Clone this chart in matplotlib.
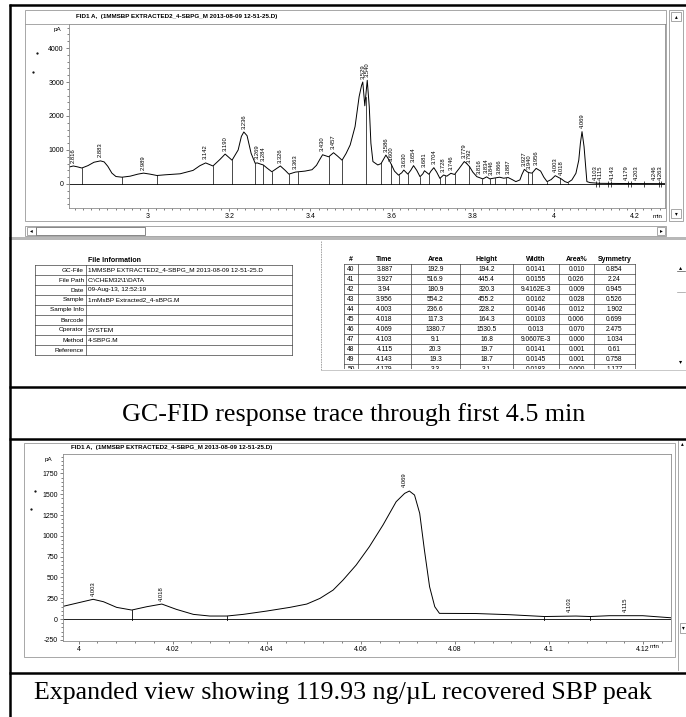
import numpy as np
import matplotlib.pyplot as plt
from matplotlib.patches import Rectangle
from matplotlib.ticker import MultipleLocator, FuncFormatter

plt.rcParams['font.family'] = ['Liberation Sans', 'DejaVu Sans']

W, H = 686, 717

run_title = 'FID1 A,  (1MMSBP EXTRACTED2_4-SBPG_M 2013-08-09 12-51-25.D)'

# full trace (min, pA)
trace_t = [2.806, 2.816, 2.826, 2.837, 2.852, 2.867, 2.883, 2.892, 2.901, 2.911,
           2.921, 2.936, 2.956, 2.975, 2.989, 3.005, 3.022, 3.042, 3.079, 3.111,
           3.128, 3.142, 3.160, 3.177, 3.190, 3.207, 3.222, 3.230, 3.236, 3.244,
           3.254, 3.264, 3.269, 3.276, 3.284, 3.293, 3.305, 3.316, 3.326, 3.338,
           3.347, 3.358, 3.363, 3.387, 3.404, 3.415, 3.423, 3.430, 3.445, 3.457,
           3.467, 3.478, 3.488, 3.498, 3.510, 3.520, 3.526, 3.529, 3.534, 3.540,
           3.545, 3.549, 3.554, 3.566, 3.574, 3.586, 3.594, 3.600, 3.607, 3.617,
           3.625, 3.630, 3.640, 3.647, 3.654, 3.662, 3.670, 3.677, 3.681, 3.692,
           3.697, 3.704, 3.711, 3.719, 3.728, 3.736, 3.746, 3.755, 3.766, 3.779,
           3.785, 3.792, 3.800, 3.810, 3.816, 3.825, 3.834, 3.842, 3.846, 3.856,
           3.866, 3.876, 3.887, 3.897, 3.906, 3.916, 3.921, 3.927, 3.935, 3.940,
           3.946, 3.956, 3.967, 3.975, 3.983, 3.993, 4.003, 4.010, 4.018, 4.027,
           4.034, 4.044, 4.054, 4.061, 4.065, 4.069, 4.074, 4.078, 4.081, 4.089,
           4.111, 4.160, 4.273]
trace_pa = [500, 530, 505, 470, 540, 640, 680, 650, 520, 320,
            220, 200, 230, 290, 320, 290, 250, 270, 300, 400,
            540, 620, 530, 720, 880, 700, 1000, 1400, 1530, 1420,
            900, 610, 620, 590, 560, 470, 360, 450, 530, 400,
            290, 330, 350, 380, 420, 550, 720, 860, 800, 920,
            820, 700, 900, 1150, 1690, 2570, 2900, 3000, 2300, 3050,
            2270, 1200, 660, 560, 600, 850, 700, 560, 380, 260,
            330, 410, 290, 400, 540, 400, 215, 300, 390, 285,
            380, 480, 350, 165, 265, 230, 315, 280, 450, 660,
            600, 510, 350, 215, 190, 150, 210, 150, 160, 180,
            200, 170, 190, 130, 70, 120, 280, 430, 350, 330,
            320, 460, 380, 200, 70, 130, 245, 200, 150, 70,
            40, 120, 315, 700, 1200, 1540, 1100, 510, 70, 40,
            20, 15, 10]

peak_rt = ['2.816', '2.883', '2.989', '3.142', '3.190', '3.236', '3.269', '3.284',
           '3.326', '3.363', '3.430', '3.457', '3.529', '3.540', '3.586', '3.600',
           '3.630', '3.654', '3.681', '3.704', '3.728', '3.746', '3.779', '3.792',
           '3.816', '3.834', '3.846', '3.866', '3.887', '3.927', '3.940', '3.956',
           '4.003', '4.018', '4.069', '4.103', '4.115', '4.143', '4.179', '4.203',
           '4.246', '4.263']

# integration drop lines and baseline crosses
cut_t = [2.837, 2.936, 3.022, 3.160, 3.207, 3.264, 3.283, 3.305, 3.347, 3.370,
         3.446, 3.478, 3.536, 3.575, 3.599, 3.618, 3.640, 3.670, 3.692, 3.719,
         3.732, 3.755, 3.790, 3.823, 3.842, 3.854, 3.882, 3.936, 3.947, 3.983,
         4.016, 4.034]
mark_t = [4.103, 4.111, 4.132, 4.140, 4.183, 4.189, 4.222, 4.259, 4.263]

# expanded view
zoom_t = [3.9964, 4.0003, 4.0031, 4.0053, 4.0081, 4.0113, 4.0145, 4.0177, 4.0208,
          4.0244, 4.0279, 4.0315, 4.0350, 4.0400, 4.0449, 4.0485, 4.0513, 4.0541,
          4.0562, 4.0590, 4.0618, 4.0647, 4.0675, 4.0693, 4.0703, 4.0714, 4.0725,
          4.0735, 4.0746, 4.0757, 4.0767, 4.0845, 4.0916, 4.0990, 4.1057, 4.1087,
          4.1128, 4.1199, 4.1259]
zoom_pa = [148, 200, 237, 208, 140, 108, 148, 180, 116,
           56, 36, 36, 56, 96, 140, 180, 248, 348,
           468, 649, 869, 1130, 1410, 1510, 1538, 1490, 1270,
           829, 388, 148, 68, 66, 52, 30, 36, 30,
           40, 40, 15]
zoom_rt = ['4.003', '4.018', '4.069', '4.103', '4.115']
zoom_rt_t = [4.0031, 4.0177, 4.0692, 4.1042, 4.1163]
zoom_rt_pa = [237, 180, 1540, 45, 45]
zoom_cut_t = [4.0113, 4.0315, 4.0990, 4.1087]

info_keys = ['GC-File', 'File Path', 'Date', 'Sample', 'Sample Info', 'Barcode',
             'Operator', 'Method', 'Reference']
info_vals = ['1MMSBP EXTRACTED2_4-SBPG_M 2013-08-09 12-51-25.D', 'C:\\CHEM32\\1\\DATA',
             '09-Aug-13, 12:52:19', '1mMsBP Extracted2_4-sBPG.M', '', '',
             'SYSTEM', '4-SBPG.M', '']

tbl_head = ['#', 'Time', 'Area', 'Height', 'Width', 'Area%', 'Symmetry']
tbl_rows = [
    ['40', '3.887', '192.9', '194.2', '0.0141', '0.010', '0.854'],
    ['41', '3.927', '516.9', '445.4', '0.0155', '0.026', '2.24'],
    ['42', '3.94', '180.9', '320.3', '9.4162E-3', '0.009', '0.945'],
    ['43', '3.956', '554.2', '455.2', '0.0162', '0.028', '0.526'],
    ['44', '4.003', '236.6', '228.2', '0.0146', '0.012', '1.902'],
    ['45', '4.018', '117.3', '164.3', '0.0103', '0.006', '0.699'],
    ['46', '4.069', '1380.7', '1530.5', '0.013', '0.070', '2.475'],
    ['47', '4.103', '9.1', '16.8', '9.0607E-3', '0.000', '1.034'],
    ['48', '4.115', '20.3', '19.7', '0.0141', '0.001', '0.61'],
    ['49', '4.143', '19.3', '18.7', '0.0145', '0.001', '0.758'],
    ['50', '4.179', '3.3', '3.1', '0.0183', '0.000', '1.177'],
]

cap_top = 'GC-FID response trace through first 4.5 min'
cap_bottom = 'Expanded view showing 119.93 ng/\u00b5L recovered SBP peak'


fig = plt.figure(figsize=(W / 100, H / 100), dpi=100)
bg = fig.add_axes([0, 0, 1, 1])
bg.set_xlim(0, W)
bg.set_ylim(H, 0)
bg.axis('off')


def px_axes(l, t, r, b):
    return fig.add_axes([l / W, 1 - b / H, (r - l) / W, (b - t) / H])


def box(x0, y0, x1, y1, ec='0.6', lw=0.6, fc='none'):
    bg.add_patch(Rectangle((x0, y0), x1 - x0, y1 - y0, ec=ec, fc=fc, lw=lw))


def style(ax, xmaj, xmin, ymaj, ymin):
    for s in ax.spines.values():
        s.set_color('0.55')
        s.set_linewidth(0.6)
    ax.xaxis.set_major_locator(MultipleLocator(xmaj))
    ax.xaxis.set_minor_locator(MultipleLocator(xmin))
    ax.yaxis.set_major_locator(MultipleLocator(ymaj))
    ax.yaxis.set_minor_locator(MultipleLocator(ymin))
    ax.xaxis.set_major_formatter(FuncFormatter(lambda v, p: '%g' % round(v, 4)))
    ax.yaxis.set_major_formatter(FuncFormatter(lambda v, p: '%d' % v))
    ax.tick_params(which='both', direction='out', color='0.3', labelsize=5,
                   width=0.5, pad=1.2)
    ax.tick_params(which='major', length=2.5)
    ax.tick_params(which='minor', length=1.2)


# ---------------- top chromatogram ----------------
box(25, 10, 666, 221)
bg.plot([25, 666], [24, 24], color='0.6', lw=0.6)
bg.text(177, 16.5, run_title, fontsize=4.5, weight='bold', ha='center', va='center')
bg.text(57, 29, 'pA', fontsize=4.5, ha='center', va='center')
bg.text(658, 216, 'min', fontsize=4.5, ha='center', va='center')
# scrollbars
box(25, 226, 666, 236)
box(27, 227, 36, 235)
bg.text(31.5, 231, '\u25c2', fontsize=4, ha='center', va='center', family='DejaVu Sans')
box(36, 227, 145, 235, ec='0.45')
box(657, 227, 665, 235)
bg.text(661, 231, '\u25b8', fontsize=4, ha='center', va='center', family='DejaVu Sans')
box(669, 10, 683, 221)
box(671, 12, 681, 21)
bg.text(676, 16.5, '\u25b4', fontsize=4, ha='center', va='center', family='DejaVu Sans')
box(671, 209, 681, 218)
bg.text(676, 213.5, '\u25be', fontsize=4, ha='center', va='center', family='DejaVu Sans')
bg.add_patch(Rectangle((9, 237), W - 9, 3, fc='0.72', ec='none'))

ax1 = px_axes(69, 24, 665, 208)
ax1.set_xlim(2.8054, 4.2734)
ax1.set_ylim(-706, 4706)
style(ax1, 0.2, 0.02, 1000, 200)
ax1.axhline(0, color='k', lw=0.6)
ax1.plot(trace_t, trace_pa, color='k', lw=0.7)
for t in cut_t:
    ax1.plot([t, t], [0, np.interp(t, trace_t, trace_pa)], color='k', lw=0.5)
ax1.vlines(mark_t, -90, 90, color='k', lw=0.5)
for lab in peak_rt:
    t = float(lab)
    ax1.annotate(lab, (t, np.interp(t, trace_t, trace_pa)), xytext=(0, 2.5),
                 textcoords='offset points', rotation=90, ha='center', va='bottom',
                 fontsize=4.2)

# ---------------- file information table ----------------
bg.text(115, 261, 'File Information', fontsize=5, weight='bold', ha='center', va='center')
ti_x0, ti_x1, ti_x2, ti_y0 = 35, 86, 292, 265
for i in range(len(info_keys) + 1):
    bg.plot([ti_x0, ti_x2], [ti_y0 + 10 * i] * 2, color='0.25', lw=0.5)
for x in (ti_x0, ti_x1, ti_x2):
    bg.plot([x, x], [ti_y0, ti_y0 + 10 * len(info_keys)], color='0.25', lw=0.5)
for i, (k, v) in enumerate(zip(info_keys, info_vals)):
    bg.text(ti_x1 - 2, ti_y0 + 5 + 10 * i, k, fontsize=4.6, ha='right', va='center')
    bg.text(ti_x1 + 2, ti_y0 + 5 + 10 * i, v, fontsize=4.6, ha='left', va='center')

bg.plot([321, 321], [241, 370], color='0.6', lw=0.6, ls=(0, (2, 1)))
bg.plot([321, W], [370, 370], color='0.75', lw=0.6)

# ---------------- peak table ----------------
tax = px_axes(340, 252, 640, 369)
tax.set_xlim(340, 640)
tax.set_ylim(369, 252)
tax.axis('off')
col_x = [344, 358, 411, 460, 513, 559, 594, 635]
row_y0 = 264.5
for j, h in enumerate(tbl_head):
    tax.text((col_x[j] + col_x[j + 1]) / 2, 259.5, h, fontsize=5, weight='bold',
             ha='center', va='center')
for i in range(len(tbl_rows) + 1):
    tax.plot([col_x[0], col_x[-1]], [row_y0 + 10 * i] * 2, color='0.25', lw=0.5)
for x in col_x:
    tax.plot([x, x], [row_y0, row_y0 + 10 * len(tbl_rows)], color='0.25', lw=0.5)
for i, row in enumerate(tbl_rows):
    for j, v in enumerate(row):
        tax.text((col_x[j] + col_x[j + 1]) / 2, row_y0 + 5 + 10 * i, v, fontsize=4.8,
                 ha='center', va='center', clip_on=True)
bg.text(681, 268, '\u25b4', fontsize=4.5, ha='center', va='center', family='DejaVu Sans')
bg.plot([677, 685], [271, 271], color='0.3', lw=0.5)
bg.plot([677, 685], [292, 292], color='0.6', lw=0.5)
bg.text(681, 362, '\u25be', fontsize=4.5, ha='center', va='center', family='DejaVu Sans')

# ---------------- expanded chromatogram ----------------
box(24, 443, 675, 657)
bg.plot([678, 678], [441, 670], color='0.6', lw=0.6)
bg.text(682, 444, '\u25b4', fontsize=4, ha='center', va='center', family='DejaVu Sans')
box(680, 623, 686, 633)
bg.text(683, 628, '\u25be', fontsize=4, ha='center', va='center', family='DejaVu Sans')
bg.text(172, 448, run_title, fontsize=4.5, weight='bold', ha='center', va='center')
bg.text(48, 460, 'pA', fontsize=4.5, ha='center', va='center')
bg.text(655, 647, 'min', fontsize=4.5, ha='center', va='center')

ax2 = px_axes(63, 454, 671, 641)
ax2.set_xlim(3.9967, 4.1259)
ax2.set_ylim(-264, 1983)
style(ax2, 0.02, 0.004, 250, 50)
ax2.axhline(0, color='k', lw=0.6)
ax2.plot(zoom_t, zoom_pa, color='k', lw=0.7)
for t in zoom_cut_t:
    ax2.plot([t, t], [-15, np.interp(t, zoom_t, zoom_pa)], color='k', lw=0.6)
for lab, t, v in zip(zoom_rt, zoom_rt_t, zoom_rt_pa):
    ax2.annotate(lab, (t, v), xytext=(0, 2.5), textcoords='offset points',
                 rotation=90, ha='center', va='bottom', fontsize=4.2)

# stray scan specks
bg.plot([37, 33, 35, 31], [53, 72, 491, 509], 'k.', ms=1.2)

# ---------------- black frame and captions ----------------
bk = dict(color='k', lw=1.8, solid_capstyle='butt')
bg.plot([9, W], [5, 5], **bk)
bg.plot([10, 10], [4, H], **bk)
for y in (387, 439, 673):
    bg.plot([9, W], [y, y], **bk)

bg.text(354, 421, cap_top, fontsize=18.7, family='Liberation Serif',
        ha='center', va='baseline')
bg.text(343, 699, cap_bottom, fontsize=18.7, family='Liberation Serif',
        ha='center', va='baseline')

fig.savefig('out.png', dpi=100)
